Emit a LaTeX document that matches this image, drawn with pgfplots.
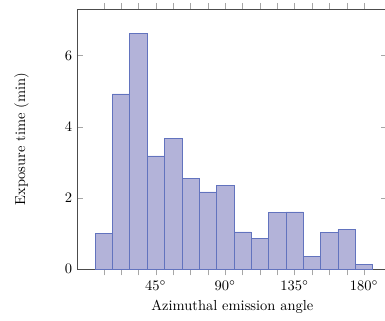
\documentclass[border=0pt]{standalone}
\usepackage{pgfplots}
\pgfplotsset{compat=1.18}
\definecolor{barfill}{RGB}{179,179,217}
\definecolor{baredge}{RGB}{98,115,190}
\begin{document}
\begin{tikzpicture}
\path[use as bounding box] (-53.3pt,-35pt) rectangle (212.2pt,185.7pt);
\begin{axis}[
  at={(0,0)}, anchor=south west,
  scale only axis,
  width=213.9pt, height=179.5pt,
  xmin=-5.9, xmax=195.2,
  ymin=0, ymax=7.3,
  xtick={11.25,22.5,33.75,45,56.25,67.5,78.75,90,101.25,112.5,123.75,135,146.25,157.5,168.75,180},
  xticklabels={,,,$45^\circ$,,,,$90^\circ$,,,,$135^\circ$,,,,$180^\circ$},
  xtick align=outside,
  ytick={0,2,4,6},
  tick style={black!35},
  axis line style={black!70},
  xlabel={Azimuthal emission angle},
  ylabel={Exposure time (min)},
  ylabel style={at={(axis description cs:-0.18,0.5)}, anchor=center},
]
\addplot[ybar, bar width=11.25, draw=baredge, fill=barfill] coordinates {
(11.25,1.01) (22.5,4.92) (33.75,6.62) (45,3.18) (56.25,3.67) (67.5,2.55)
(78.75,2.17) (90,2.35) (101.25,1.05) (112.5,0.87) (123.75,1.60) (135,1.61)
(146.25,0.36) (157.5,1.04) (168.75,1.11) (180,0.14)
};
\end{axis}
\end{tikzpicture}
\end{document}
